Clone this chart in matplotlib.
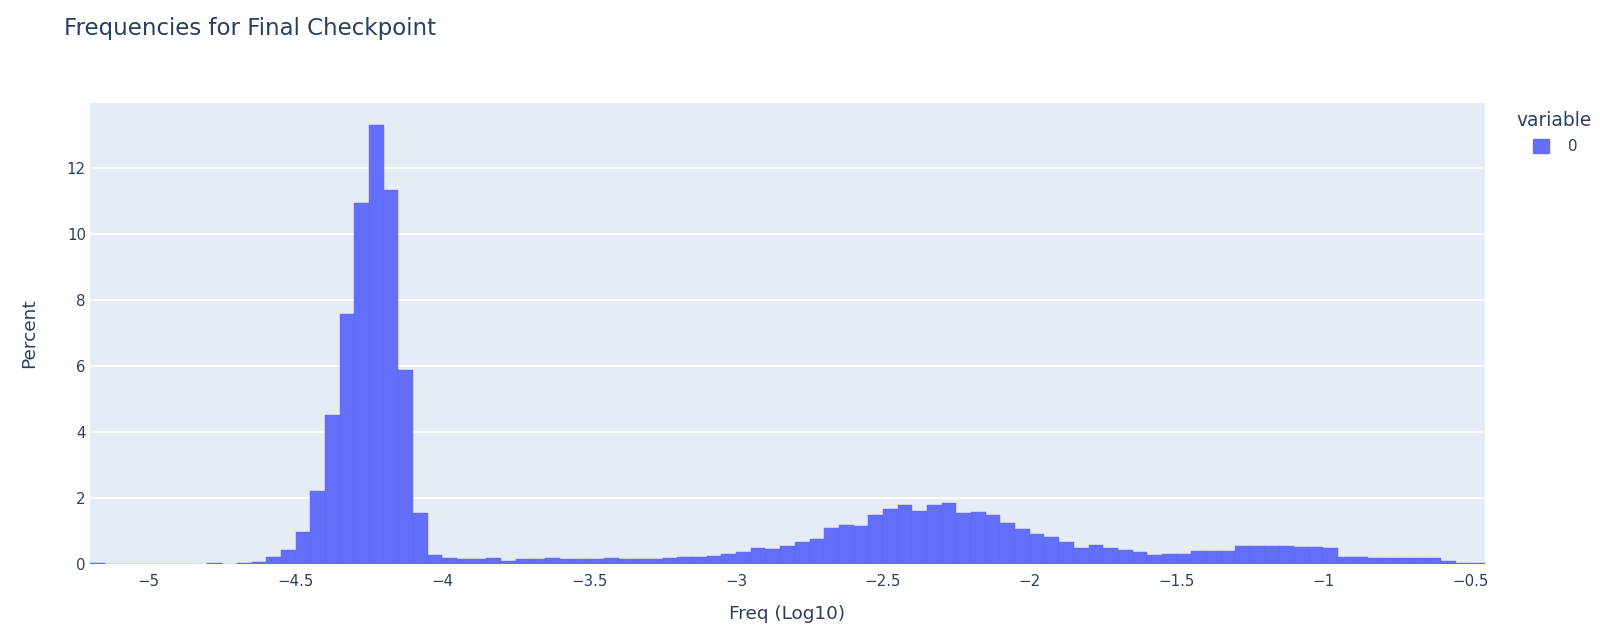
import numpy as np
import matplotlib
matplotlib.use("Agg")
import matplotlib.pyplot as plt
from matplotlib.patches import Patch

# ---- data ----
title = "Frequencies for Final Checkpoint"
x_label = "Freq (Log10)"
y_label = "Percent"
legend_title = "variable"
series_name = "0"
bin_start = -5.2
bin_width = 0.05
percent = [
    0.02, 0, 0, 0, 0, 0, 0, 0, 0.02, 0,
    0.02, 0.05, 0.21, 0.41, 0.96, 2.22, 4.50, 7.58, 10.92, 13.28,
    11.32, 5.86, 1.53, 0.26, 0.17, 0.14, 0.14, 0.18, 0.10, 0.14,
    0.14, 0.17, 0.14, 0.14, 0.14, 0.17, 0.14, 0.14, 0.14, 0.17,
    0.20, 0.20, 0.25, 0.30, 0.35, 0.49, 0.46, 0.55, 0.66, 0.76,
    1.08, 1.19, 1.16, 1.48, 1.68, 1.79, 1.60, 1.79, 1.86, 1.53,
    1.57, 1.49, 1.24, 1.07, 0.91, 0.83, 0.66, 0.49, 0.58, 0.49,
    0.42, 0.35, 0.26, 0.30, 0.30, 0.38, 0.38, 0.38, 0.54, 0.54,
    0.54, 0.54, 0.50, 0.50, 0.47, 0.20, 0.20, 0.17, 0.17, 0.17,
    0.17, 0.17, 0.10, 0.02, 0.02,
]
x_ticks = [-5, -4.5, -4, -3.5, -3, -2.5, -2, -1.5, -1, -0.5]
y_ticks = [0, 2, 4, 6, 8, 10, 12]

# ---- style ----
W, H = 1600, 633
bar_color = "#636EFA"
bg = "#E5ECF6"
text_color = "#2a3f5f"
plt.rcParams['font.family'] = ['DejaVu Sans']

fig = plt.figure(figsize=(W / 100, H / 100), dpi=100)
L, R, T, B = 90, 1485, 102.7, 564
ax = fig.add_axes([L / W, 1 - B / H, (R - L) / W, (B - T) / H])
ax.set_facecolor(bg)

edges = bin_start + bin_width * np.arange(len(percent) + 1)
ax.bar(edges[:-1], percent, width=bin_width, align='edge', color=bar_color,
       edgecolor="#5f69f0", linewidth=0.3, zorder=3, label=series_name)

ax.set_xlim(edges[0], edges[-1])
ax.set_ylim(0, 13.97)
ax.set_xticks(x_ticks)
ax.set_xticklabels([("\u2212" + f"{abs(v):g}") if v < 0 else f"{v:g}" for v in x_ticks])
ax.set_yticks(y_ticks)
ax.yaxis.grid(True, color="white", linewidth=1.1, zorder=0)
ax.xaxis.grid(False)
for s in ax.spines.values():
    s.set_visible(False)
ax.tick_params(axis='both', length=0, labelsize=10.8, colors=text_color)
ax.tick_params(axis='x', pad=7)
ax.tick_params(axis='y', pad=3)
ax.set_axisbelow(True)

ax.set_xlabel(x_label, fontsize=13.3, color=text_color, labelpad=12)
ax.set_ylabel(y_label, fontsize=13.3, color=text_color, labelpad=20.5)

fig.text(64 / W, 1 - 28 / H, title, fontsize=16.5, color=text_color,
         ha='left', va='center')

fig.text(1516.7 / W, 1 - 121 / H, legend_title, fontsize=13.4, color=text_color,
         ha='left', va='center')
handle = Patch(facecolor=bar_color, edgecolor=bar_color)
leg = ax.legend(handles=[handle], labels=[series_name], loc='center left',
                bbox_to_anchor=(1532.5 / W, 1 - 146.7 / H),
                bbox_transform=fig.transFigure, frameon=False, borderpad=0,
                borderaxespad=0,
                handlelength=1.08, handleheight=1.0, handletextpad=1.28,
                fontsize=10.8, labelcolor=text_color)

fig.savefig("out.png", dpi=100, facecolor="white")
